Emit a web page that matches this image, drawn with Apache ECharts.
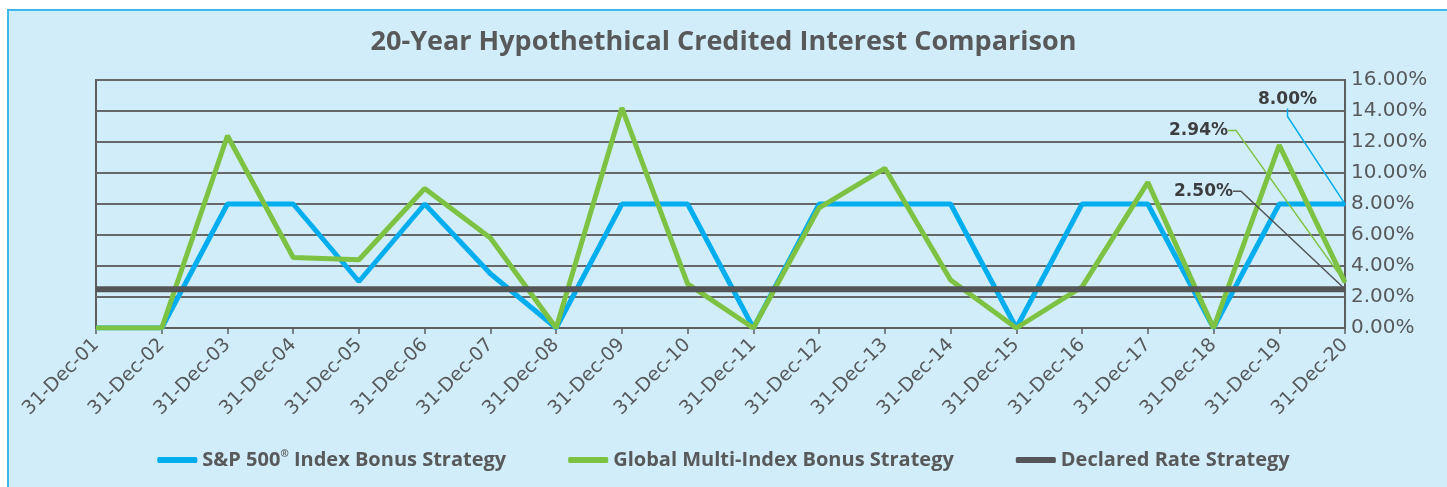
<!DOCTYPE html>
<html>
<head>
<meta charset="utf-8">
<script src="https://cdn.jsdelivr.net/npm/echarts@6/dist/echarts.min.js"></script>
<style>
  html, body { margin: 0; padding: 0; background: #fff; }
  #frame {
    position: absolute; left: 7px; top: 9px; width: 1440px; height: 478px;
    box-sizing: border-box;
    border-top: 2px solid #3db8ea; border-left: 2px solid #3db8ea;
    background: #d1edfa;
  }
  #chart { position: absolute; left: 0; top: 0; width: 1447px; height: 487px; }
</style>
</head>
<body>
<div id="frame"></div>
<div id="chart"></div>
<script>
// years on the x axis
const categories = ['31-Dec-01', '31-Dec-02', '31-Dec-03', '31-Dec-04', '31-Dec-05',
  '31-Dec-06', '31-Dec-07', '31-Dec-08', '31-Dec-09', '31-Dec-10',
  '31-Dec-11', '31-Dec-12', '31-Dec-13', '31-Dec-14', '31-Dec-15',
  '31-Dec-16', '31-Dec-17', '31-Dec-18', '31-Dec-19', '31-Dec-20']
// credited rates in %
const spValues = [0, 0, 8, 8, 3, 8, 3.5, 0, 8, 8, 0, 8, 8, 8, 0, 8, 8, 0, 8, 8]
const globalValues = [0, 0, 12.4, 4.55, 4.4, 9.0, 5.8, 0, 14.2, 2.85, 0, 7.75, 10.3, 3.1, 0, 2.65, 9.4, 0, 11.8, 2.94]
const declaredValues = [2.5, 2.5, 2.5, 2.5, 2.5, 2.5, 2.5, 2.5, 2.5, 2.5, 2.5, 2.5, 2.5, 2.5, 2.5, 2.5, 2.5, 2.5, 2.5, 2.5]
const yTicks = { min: 0, max: 16, interval: 2 }

const GREY = '#58595b'
const BLUE = '#00aeef'
const GREEN = '#7dc242'
const DARK = '#545557'

// only the last point gets a label (like excel's data label with leader line)
function withEndLabel (arr, color) {
  return arr.map((v, i) => {
    if (i !== arr.length - 1) return v
    return {
      value: v,
      symbol: 'circle',
      symbolSize: 2,
      itemStyle: { color: color },
      label: {
        show: true,
        position: 'left',
        distance: 5,
        formatter: p => p.value.toFixed(2) + '%',
        color: '#3d3e40',
        fontFamily: 'DejaVu Sans',
        fontWeight: 'bold',
        fontSize: 17
      }
    }
  })
}

function makeSeries (name, values, color, width, dx, dy) {
  return {
    name: name,
    type: 'line',
    color: color,
    symbol: 'none',
    showSymbol: true,
    data: withEndLabel(values, color),
    lineStyle: { width: width, color: color },
    labelLayout: { dx: dx, dy: dy },
    labelLine: {
      show: true,
      length2: 8,
      lineStyle: { color: color, width: 1.5 }
    },
    emphasis: { disabled: true },
    animation: false
  }
}

let myChart = echarts.init(document.getElementById('chart'))
myChart.setOption({
  title: {
    text: '20-Year Hypothethical Credited Interest Comparison',
    left: 'center',
    top: 24,
    textStyle: {
      color: GREY,
      fontFamily: 'Open Sans',
      fontWeight: 'bold',
      fontSize: 27
    }
  },
  legend: {
    bottom: 12,
    left: 'center',
    icon: 'roundRect',
    itemWidth: 40,
    itemHeight: 6,
    itemGap: 62,
    formatter: name => name.replace('®', '{sup|®}'),
    textStyle: {
      color: GREY,
      fontFamily: 'Open Sans',
      fontWeight: 'bold',
      fontSize: 20,
      rich: {
        sup: { fontSize: 10, fontWeight: 'bold', color: GREY, fontFamily: 'Open Sans', padding: [0, 0, 11, 0] }
      }
    }
  },
  grid: {
    left: 96,
    right: 102,
    top: 80,
    bottom: 159,
    show: true,
    borderColor: '#5d5e60',
    borderWidth: 2,
    containLabel: false
  },
  xAxis: {
    type: 'category',
    boundaryGap: false,
    data: categories,
    axisLine: { show: true, lineStyle: { color: '#5d5e60', width: 2 } },
    axisTick: { show: true, length: 6, lineStyle: { color: '#5d5e60', width: 1.5 } },
    axisLabel: {
      rotate: 45,
      margin: 14,
      interval: 0,
      color: GREY,
      fontFamily: 'DejaVu Sans',
      fontSize: 19
    },
    splitLine: { show: false }
  },
  yAxis: {
    type: 'value',
    position: 'right',
    min: yTicks.min,
    max: yTicks.max,
    interval: yTicks.interval,
    axisLine: { show: false },
    axisTick: { show: false },
    axisLabel: {
      margin: 6,
      color: GREY,
      fontFamily: 'DejaVu Sans',
      fontSize: 20,
      formatter: v => v.toFixed(2) + '%'
    },
    splitLine: { show: true, lineStyle: { color: '#666769', width: 2 } }
  },
  series: [
    makeSeries('S&P 500® Index Bonus Strategy', spValues, BLUE, 5, -22, -104),
    makeSeries('Global Multi-Index Bonus Strategy', globalValues, GREEN, 5, -111, -152),
    makeSeries('Declared Rate Strategy', declaredValues, DARK, 6, -106, -98)
  ]
})
</script>
</body>
</html>
